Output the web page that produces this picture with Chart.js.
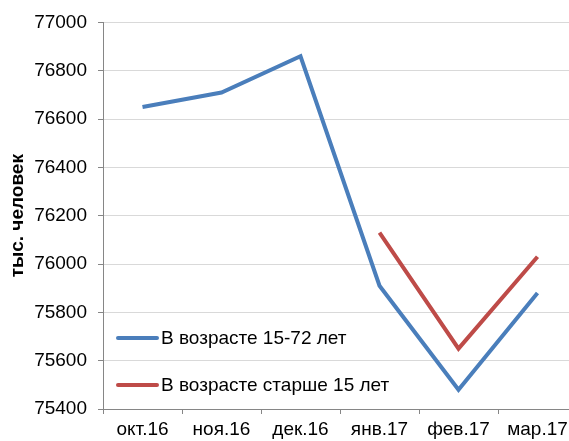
<!DOCTYPE html>
<html>
<head>
<meta charset="utf-8">
<script src="https://cdn.jsdelivr.net/npm/chart.js@4"></script>
<style>
  html, body { margin: 0; padding: 0; overflow: hidden; background: #fff; }
  #wrap { width: 580px; height: 441px; }
</style>
</head>
<body>
<div id="wrap"><canvas id="c"></canvas></div>
<script>
// Months
const categories = ['окт.16', 'ноя.16', 'дек.16', 'янв.17', 'фев.17', 'мар.17'];
// Employed population, thousand people
const ages15to72 = [76650, 76710, 76860, 75910, 75480, 75880];
const agesOver15 = [null, null, null, 76130, 75650, 76030];
const seriesNames = ['В возрасте 15-72 лет', 'В возрасте старше 15 лет'];
const yTitle = 'тыс. человек';
const yMin = 75400, yMax = 77000, yStep = 200;

const FONT = '"Liberation Sans", Arial, sans-serif';
const AXIS = '#868686';
const GRID = '#d9d9d9';

// Legend drawn inside the plot area, lower-left corner
const innerLegend = {
  id: 'innerLegend',
  afterDraw(chart) {
    const { ctx, chartArea } = chart;
    ctx.save();
    ctx.font = '19px ' + FONT;
    ctx.textBaseline = 'middle';
    ctx.fillStyle = '#000';
    chart.data.datasets.forEach((ds, i) => {
      const y = chartArea.bottom - 71 + i * 47;
      const x0 = chartArea.left + 15;
      ctx.strokeStyle = ds.borderColor;
      ctx.lineWidth = 4;
      ctx.lineCap = 'round';
      ctx.beginPath();
      ctx.moveTo(x0, y);
      ctx.lineTo(x0 + 39, y);
      ctx.stroke();
      ctx.fillText(ds.label, x0 + 43, y + 1);
    });
    ctx.restore();
  }
};

new Chart(document.getElementById('c'), {
  type: 'line',
  data: {
    labels: categories,
    datasets: [
      { label: seriesNames[0], data: ages15to72, borderColor: '#4a7ebb', borderWidth: 4,
        pointRadius: 0, fill: false, tension: 0, borderJoinStyle: 'miter' },
      { label: seriesNames[1], data: agesOver15, borderColor: '#be4b48', borderWidth: 4,
        pointRadius: 0, fill: false, tension: 0, borderJoinStyle: 'miter' }
    ]
  },
  options: {
    responsive: true,
    maintainAspectRatio: false,
    animation: false,
    devicePixelRatio: 1,
    layout: { padding: { top: 22, right: 3, bottom: 0, left: 0 } },
    plugins: { legend: { display: false }, tooltip: { enabled: false } },
    scales: {
      x: {
        offset: true,
        grid: { display: true, drawOnChartArea: false, drawTicks: true, tickLength: 5,
                tickColor: AXIS, offset: true },
        border: { color: AXIS, width: 1 },
        ticks: { font: { family: FONT, size: 19 }, color: '#000', padding: 4,
                 maxRotation: 0, autoSkip: false },
        afterFit(s) { s.height = 32; }
      },
      y: {
        min: yMin, max: yMax,
        grid: { color: GRID, lineWidth: 1, drawTicks: true, tickLength: 5, tickColor: AXIS },
        border: { color: AXIS, width: 1 },
        ticks: { stepSize: yStep, font: { family: FONT, size: 19 }, color: '#000', padding: 11,
                 callback: v => String(v) },
        title: { display: true, text: yTitle, color: '#000',
                 font: { family: FONT, size: 19, weight: 'bold' }, padding: { top: 6, bottom: 0 } },
        afterFit(s) { s.width = 103; }
      }
    }
  },
  plugins: [innerLegend]
});
</script>
</body>
</html>
